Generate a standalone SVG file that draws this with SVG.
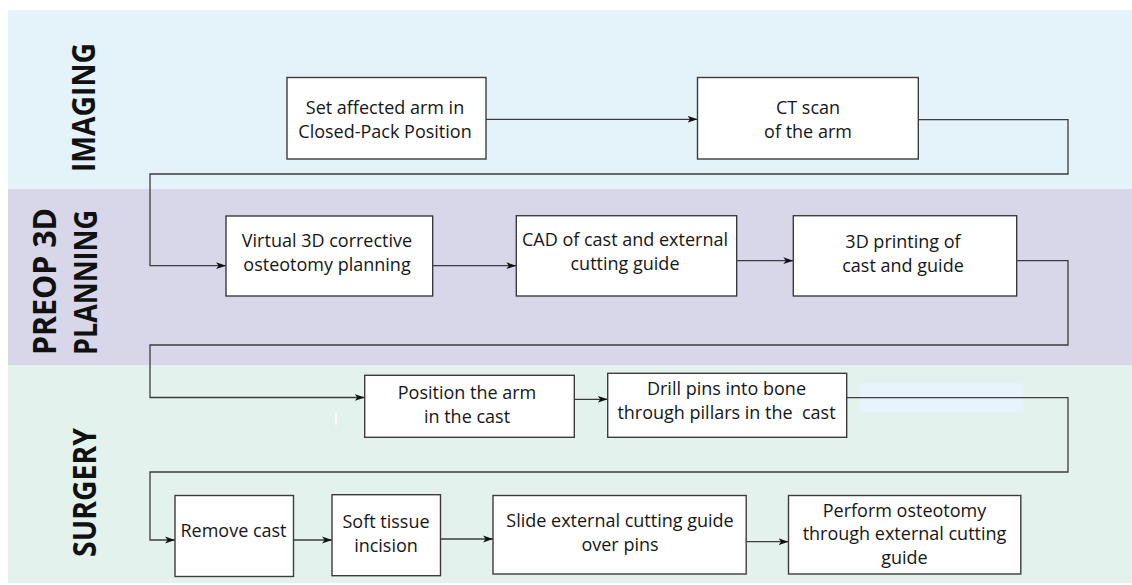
<svg xmlns="http://www.w3.org/2000/svg" width="1132" height="585" viewBox="0 0 1132 585">
<defs>
<marker id="arr" markerUnits="userSpaceOnUse" markerWidth="12" markerHeight="10" refX="10" refY="4" orient="auto">
<path d="M0,0.6 L10,4 L0,7.4 L2.6,4 Z" fill="#111"/>
</marker>
<style>
.node rect{fill:#fff;stroke:#3c3c3c;stroke-width:1.4}
.node text{font-family:"Open Sans","Liberation Sans",sans-serif;font-size:18px;fill:#161616;text-anchor:middle}
.lane{font-family:"Open Sans","Liberation Sans",sans-serif;font-weight:bold;font-size:32.5px;fill:#111}
#connectors path{fill:none;stroke:#3c3c3c;stroke-width:1.3;marker-end:url(#arr)}
</style>
</defs>
<rect width="1132" height="585" fill="#fff"/>
<g id="bands">
<rect x="8" y="10" width="1124" height="179" fill="#e4f2fa"/>
<rect x="8" y="189" width="1124" height="176" fill="#d8d7e9"/>
<rect x="8" y="365" width="1124" height="218" fill="#e4f2ee"/>
<rect x="860" y="383" width="163" height="29" fill="#e6f3fb"/>
<rect x="335" y="413" width="2" height="12" fill="#ffffff" opacity="0.85"/>
</g>
<g id="lanes">
<text class="lane" transform="translate(95,107.5) rotate(-90)" text-anchor="middle" textLength="129" lengthAdjust="spacingAndGlyphs">IMAGING</text>
<text class="lane" transform="translate(56,281.5) rotate(-90)" text-anchor="middle" textLength="147" lengthAdjust="spacingAndGlyphs">PREOP 3D</text>
<text class="lane" transform="translate(96.5,282.5) rotate(-90)" text-anchor="middle" textLength="145" lengthAdjust="spacingAndGlyphs">PLANNING</text>
<text class="lane" transform="translate(96,492.5) rotate(-90)" text-anchor="middle" textLength="129" lengthAdjust="spacingAndGlyphs">SURGERY</text>
</g>
<g id="connectors">
<path d="M486,119.3 H697.5"/>
<path d="M918.3,119.7 H1068 V174 H150 V265.7 H226"/>
<path d="M432.7,265.7 H516.3"/>
<path d="M736.7,260.7 H793.3"/>
<path d="M1016.7,260.7 H1068 V345 H150 V397.5 H364.7"/>
<path d="M574.3,399.3 H607.7"/>
<path d="M846.7,397.7 H1068 V472 H150 V540 H175"/>
<path d="M293.5,540 H332"/>
<path d="M440.5,539 H493"/>
<path d="M746.2,541.7 H788.5"/>
</g>
<g id="n1" class="node"><rect x="287" y="77.5" width="199" height="81.5"/><text x="385" y="113.5">Set affected arm in</text><text x="385" y="137.7">Closed-Pack Position</text></g>
<g id="n2" class="node"><rect x="697.5" y="77.5" width="220.8" height="81.5"/><text x="808" y="113.5">CT scan</text><text x="808" y="138">of the arm</text></g>
<g id="n3" class="node"><rect x="226" y="216" width="206.7" height="80"/><text x="327" y="247">Virtual 3D corrective</text><text x="327" y="271">osteotomy planning</text></g>
<g id="n4" class="node"><rect x="516.3" y="215.7" width="220.4" height="80.3"/><text x="625" y="246">CAD of cast and external</text><text x="625" y="270">cutting guide</text></g>
<g id="n5" class="node"><rect x="793.3" y="215.7" width="223.4" height="80.3"/><text x="903" y="248">3D printing of</text><text x="903" y="272">cast and guide</text></g>
<g id="n6" class="node"><rect x="364.7" y="375.3" width="209.6" height="62"/><text x="467" y="399">Position the arm</text><text x="467" y="423.3">in the cast</text></g>
<g id="n7" class="node"><rect x="607.7" y="373.3" width="239" height="64"/><text x="726.5" y="395">Drill pins into bone</text><text x="726.5" y="419.3" xml:space="preserve">through pillars in the  cast</text></g>
<g id="n8" class="node"><rect x="175" y="495.5" width="118.5" height="81"/><text x="233.5" y="536.5">Remove cast</text></g>
<g id="n9" class="node"><rect x="332" y="494.7" width="108.5" height="81"/><text x="386" y="527.5">Soft tissue</text><text x="386" y="551.5">incision</text></g>
<g id="n10" class="node"><rect x="493" y="495.5" width="253.2" height="78.5"/><text x="620" y="527">Slide external cutting guide</text><text x="620" y="551">over pins</text></g>
<g id="n11" class="node"><rect x="788.5" y="495.5" width="232.3" height="78.5"/><text x="904.5" y="516.5">Perform osteotomy</text><text x="904.5" y="540">through external cutting</text><text x="904.5" y="563.5">guide</text></g>
</svg>
